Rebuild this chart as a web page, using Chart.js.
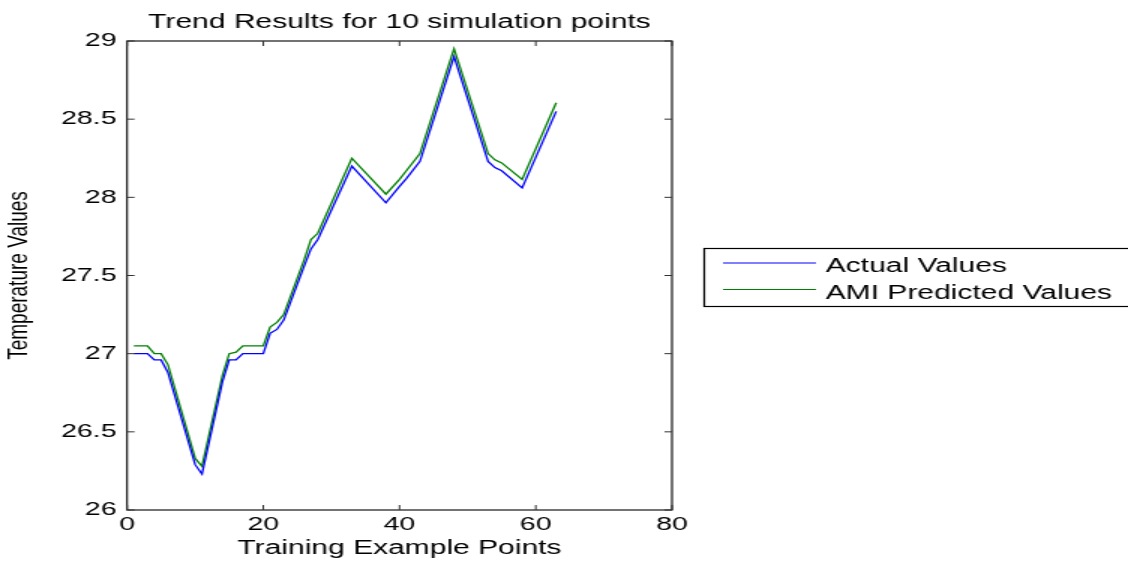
<!DOCTYPE html>
<html lang="en">
<head>
  <meta charset="UTF-8">
  <title>Trend Results for 10 simulation points</title>
  <script src="https://cdn.jsdelivr.net/npm/chart.js"></script>
  <style>
    body {
      margin: 0;
      background: #fff;
    }
  </style>
</head>
<body>
  <!-- the figure is drawn narrow and stretched sideways, like the original export -->
  <canvas id="trendChart" width="752" height="561" style="width:1128px;height:561px;display:block"></canvas>

  <script>
    // vertices of the two traces
    const xPoints = [1, 3, 4, 5, 6, 10, 11, 14, 15, 16, 17, 20, 21, 22, 23, 26, 27, 28, 33, 38, 40, 41, 43, 48, 53, 54, 55, 58, 63];
    const actualValues = [27.00, 27.00, 26.96, 26.96, 26.88, 26.29, 26.23, 26.82, 26.96, 26.96, 27.00, 27.00, 27.13, 27.155, 27.215, 27.56, 27.67, 27.73, 28.20, 27.965, 28.07, 28.12, 28.23, 28.90, 28.23, 28.19, 28.17, 28.06, 28.55];
    const predictedValues = [27.05, 27.05, 27.00, 27.00, 26.93, 26.33, 26.28, 26.86, 27.00, 27.01, 27.05, 27.05, 27.17, 27.20, 27.25, 27.60, 27.73, 27.77, 28.25, 28.02, 28.115, 28.17, 28.28, 28.95, 28.28, 28.24, 28.22, 28.115, 28.605];

    const seriesNames = ["Actual Values", "AMI Predicted Values"];
    const xTicks = [0, 20, 40, 60, 80];
    const yTicks = [26, 26.5, 27, 27.5, 28, 28.5, 29];
    const chartTitle = "Trend Results for 10 simulation points";

    const FONT = "'Liberation Sans', Arial, sans-serif";

    function toPoints(ys) {
      return xPoints.map((x, i) => ({ x: x, y: ys[i] }));
    }

    // box round the axes, matlab style inward ticks, title centred on the axes
    const boxAndTicks = {
      id: "boxAndTicks",
      afterDraw(chart) {
        const { ctx, chartArea: a, scales } = chart;
        ctx.save();
        ctx.strokeStyle = "#000";
        ctx.lineWidth = 1.1;
        ctx.strokeRect(a.left, a.top, a.right - a.left, a.bottom - a.top);

        ctx.strokeStyle = "#333";
        ctx.lineWidth = 1;
        ctx.beginPath();
        const len = 5;
        scales.y.ticks.forEach((t) => {
          const y = scales.y.getPixelForValue(t.value);
          ctx.moveTo(a.left, y);
          ctx.lineTo(a.left + len, y);
          ctx.moveTo(a.right, y);
          ctx.lineTo(a.right - len, y);
        });
        scales.x.ticks.forEach((t) => {
          const x = scales.x.getPixelForValue(t.value);
          ctx.moveTo(x, a.bottom);
          ctx.lineTo(x, a.bottom - len);
          ctx.moveTo(x, a.top);
          ctx.lineTo(x, a.top + len);
        });
        ctx.stroke();

        ctx.fillStyle = "#000";
        ctx.font = "20px " + FONT;
        ctx.textAlign = "center";
        ctx.textBaseline = "alphabetic";
        ctx.fillText(chartTitle, (a.left + a.right) / 2, 28);
        ctx.restore();
      },
    };

    // legend box sits to the right of the axes and runs off the edge
    const sideLegend = {
      id: "sideLegend",
      afterDraw(chart) {
        const ctx = chart.ctx;
        const left = 469.5, top = 248.5, bottom = 306.5;
        ctx.save();
        ctx.strokeStyle = "#000";
        ctx.lineWidth = 1.2;
        ctx.strokeRect(left, top, 800 - left, bottom - top);

        const rows = [263, 289.5];
        chart.data.datasets.forEach((ds, i) => {
          ctx.strokeStyle = ds.borderColor;
          ctx.lineWidth = 1;
          ctx.beginPath();
          ctx.moveTo(482, rows[i]);
          ctx.lineTo(544, rows[i]);
          ctx.stroke();

          ctx.fillStyle = "#000";
          ctx.font = "20px " + FONT;
          ctx.textBaseline = "alphabetic";
          ctx.textAlign = "left";
          ctx.fillText(ds.label, 550.5, rows[i] + 9);
        });
        ctx.restore();
      },
    };

    new Chart(document.getElementById("trendChart"), {
      type: "line",
      data: {
        datasets: [
          {
            label: seriesNames[0],
            data: toPoints(actualValues),
            borderColor: "#0000ff",
            borderWidth: 1.3,
            pointRadius: 0,
            tension: 0,
          },
          {
            label: seriesNames[1],
            data: toPoints(predictedValues),
            borderColor: "#008000",
            borderWidth: 1.3,
            pointRadius: 0,
            tension: 0,
          },
        ],
      },
      options: {
        responsive: false,
        devicePixelRatio: 1,
        animation: false,
        layout: {
          padding: { left: 0, top: 41, right: 304, bottom: 0 },
        },
        plugins: {
          legend: { display: false },
          tooltip: { enabled: false },
          title: { display: false },
        },
        scales: {
          x: {
            type: "linear",
            min: xTicks[0],
            max: xTicks[xTicks.length - 1],
            afterBuildTicks: (s) => { s.ticks = xTicks.map((v) => ({ value: v })); },
            afterFit: (s) => { s.height = 51; },
            grid: { display: false, drawTicks: false },
            border: { display: false },
            ticks: {
              color: "#000",
              padding: 3,
              maxRotation: 0,
              font: { family: FONT, size: 19 },
            },
            title: {
              display: true,
              text: "Training Example Points",
              color: "#000",
              font: { family: FONT, size: 20 },
              padding: { top: 0, bottom: 1 },
            },
          },
          y: {
            min: yTicks[0],
            max: yTicks[yTicks.length - 1],
            afterBuildTicks: (s) => { s.ticks = yTicks.map((v) => ({ value: v })); },
            afterFit: (s) => { s.width = 84.7; },
            grid: { display: false, drawTicks: false },
            border: { display: false },
            ticks: {
              color: "#000",
              padding: 7,
              font: { family: FONT, size: 19 },
              callback: (v) => String(v),
            },
            title: {
              display: true,
              text: "Temperature Values",
              color: "#000",
              font: { family: FONT, size: 19 },
              padding: { top: 1, bottom: 0 },
            },
          },
        },
      },
      plugins: [boxAndTicks, sideLegend],
    });
  </script>
</body>
</html>
